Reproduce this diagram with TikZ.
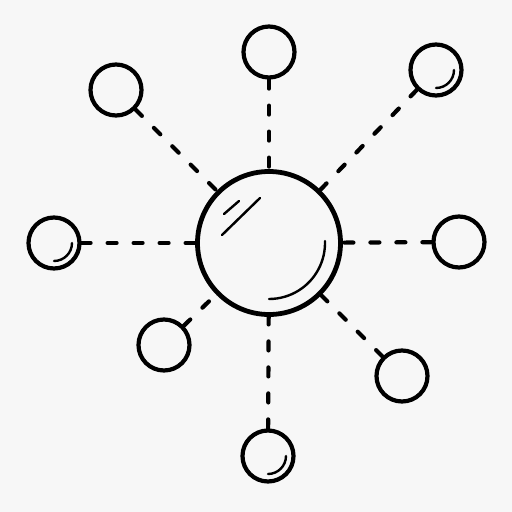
\documentclass[tikz,border=0pt]{standalone}
\usepackage{tikz}

\definecolor{paper}{RGB}{247,247,247}

\begin{document}
\begin{tikzpicture}[x=1pt,y=-1pt]
    \tikzset{leaf/.style={circle,draw,line width=4.2pt,inner sep=0pt,minimum size=51pt}}
    \tikzset{hubnode/.style={circle,draw,line width=4.8pt,inner sep=0pt,minimum size=143pt}}
    \tikzset{link/.style={line width=4.2pt,line cap=round,dash pattern=on 9pt off 17pt}}
    \tikzset{gloss/.style={line width=2.4pt,line cap=round}}
    \fill[paper] (0,0) rectangle (512,512);
    \node[hubnode] (hub) at (269,243) {};
    \node[leaf] (top) at (269,52) {};
    \node[leaf] (topright) at (436,70) {};
    \node[leaf] (right) at (459,242) {};
    \node[leaf] (botright) at (402,376) {};
    \node[leaf] (bot) at (268,456) {};
    \node[leaf] (botleft) at (164,345) {};
    \node[leaf] (left) at (54,243) {};
    \node[leaf] (topleft) at (116,90) {};
    \foreach \n in {top,topright,right,botright,bot,botleft,left,topleft}
        \draw[link] (\n) -- (hub);
    % shine marks
    \draw[gloss] ([shift={(-2:56)}]hub.center) arc (-2:90:56);
    \draw[gloss] ([shift={(-45,-29)}]hub.center) -- ([shift={(-30,-42)}]hub.center);
    \draw[gloss] ([shift={(-47,-8)}]hub.center) -- ([shift={(-9,-45)}]hub.center);
    \foreach \n in {topright,bot,left}
        \draw[gloss] ([shift={(0:18)}]\n.center) arc (0:90:18);
\end{tikzpicture}
\end{document}
